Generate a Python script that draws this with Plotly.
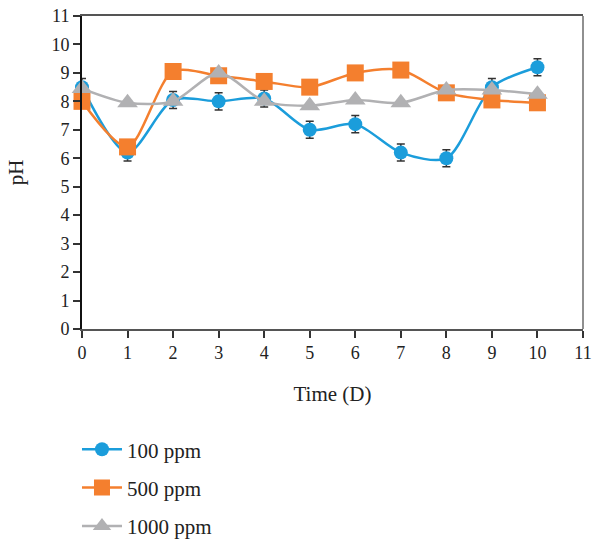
import plotly.graph_objects as go

time_days = [0, 1, 2, 3, 4, 5, 6, 7, 8, 9, 10]
ph_100 = [8.5, 6.2, 8.05, 8.0, 8.1, 7.0, 7.2, 6.2, 6.0, 8.5, 9.2]
err_100 = [0.3, 0.3, 0.3, 0.3, 0.3, 0.3, 0.3, 0.3, 0.3, 0.3, 0.3]
ph_500 = [8.0, 6.4, 9.05, 8.9, 8.7, 8.5, 9.0, 9.1, 8.3, 8.05, 7.95]
ph_1000 = [8.45, 7.95, 8.0, 9.0, 8.0, 7.85, 8.05, 7.95, 8.4, 8.4, 8.25]
x_ticks = list(range(0, 12))
y_ticks = list(range(0, 12))

FONT = "Liberation Serif, DejaVu Serif, serif"

fig = go.Figure()
fig.add_trace(go.Scatter(
    x=time_days, y=ph_100, name="100 ppm", mode="lines+markers",
    line=dict(color="#1B9DDB", width=2.5, shape="spline", smoothing=0.8),
    marker=dict(symbol="circle", size=14, color="#1B9DDB"),
    error_y=dict(type="data", array=err_100, visible=True, color="#333333", thickness=1.5, width=4),
    legendgroup="a", cliponaxis=False,
))
fig.add_trace(go.Scatter(
    x=time_days, y=ph_500, name="500 ppm", mode="lines+markers",
    line=dict(color="#F47F2E", width=2.5, shape="spline", smoothing=0.8),
    marker=dict(symbol="square", size=17, color="#F47F2E"),
    legendgroup="b", cliponaxis=False,
))
fig.add_trace(go.Scatter(
    x=time_days, y=ph_1000, name="1000 ppm", mode="lines+markers",
    line=dict(color="#B1B1B3", width=2.5, shape="spline", smoothing=0.8),
    marker=dict(symbol="triangle-up", size=18, color="#B1B1B3"),
    legendgroup="c", cliponaxis=False,
))

fig.add_shape(type="line", xref="paper", yref="paper", x0=1, x1=1, y0=0, y1=1,
              line=dict(color="#6b6b6b", width=1.5))

fig.update_layout(
    width=593, height=544,
    margin=dict(l=82, r=10, t=16, b=215, autoexpand=False),
    paper_bgcolor="white", plot_bgcolor="white",
    font=dict(family=FONT, size=18, color="#222222"),
    showlegend=True,
    legend=dict(x=-0.01, y=-0.32, xanchor="left", yanchor="top",
                font=dict(family=FONT, size=21, color="#222222"),
                itemwidth=40,
                tracegroupgap=8, bgcolor="rgba(0,0,0,0)"),
    xaxis=dict(
        range=[0, 11], tickvals=x_ticks, ticktext=[str(v) for v in x_ticks],
        showgrid=False, zeroline=False, automargin=False,
        showline=True, linecolor="#555555", linewidth=1.5, mirror=True,
        ticks="outside", ticklen=7, tickcolor="#333333", tickwidth=1.5,
        title=dict(text="Time (D)", font=dict(family=FONT, size=21), standoff=24),
        tickfont=dict(family=FONT, size=18),
    ),
    yaxis=dict(
        range=[0, 11], tickvals=y_ticks, ticktext=[str(v) for v in y_ticks],
        showgrid=False, zeroline=False, automargin=False,
        showline=True, linecolor="#111111", linewidth=2, mirror=False,
        ticks="outside", ticklen=7, tickcolor="#333333", tickwidth=1.5,
        ticksuffix=" ",
        title=dict(text="pH", font=dict(family=FONT, size=21), standoff=22),
        tickfont=dict(family=FONT, size=18),
    ),
)

fig.write_html("out.html", config={"displayModeBar": False},
               post_script="document.body.style.margin='0';")
